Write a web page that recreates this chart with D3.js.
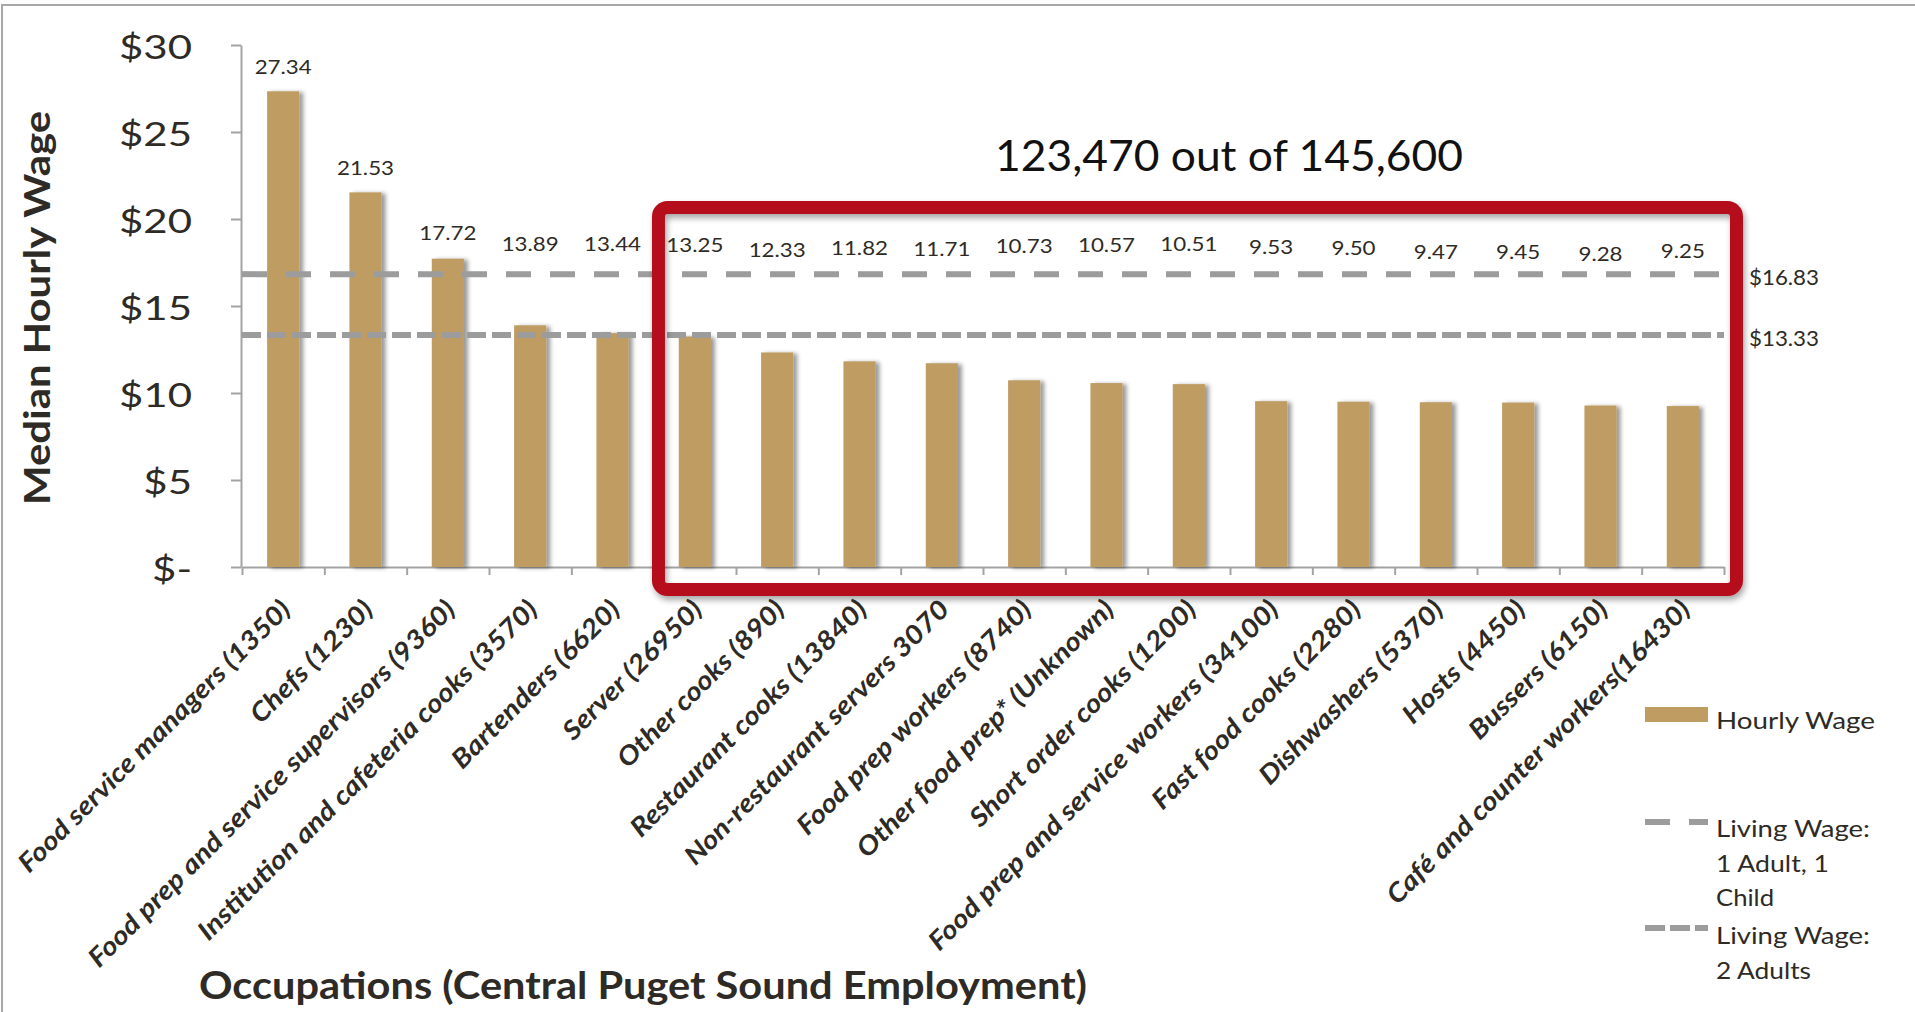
<!DOCTYPE html>
<html>
<head>
<meta charset="utf-8">
<script src="https://cdn.jsdelivr.net/npm/d3@7"></script>
<style>
  html, body { margin: 0; padding: 0; background: #fff; }
  svg { display: block; }
  text { font-family: Lato, "Open Sans", sans-serif; fill: #2e2a25; }
</style>
</head>
<body>
<script>
// ---------- data ----------
const categories = [
  "Food service managers (1350)",
  "Chefs (1230)",
  "Food prep and service supervisors (9360)",
  "Institution and cafeteria cooks (3570)",
  "Bartenders (6620)",
  "Server (26950)",
  "Other cooks (890)",
  "Restaurant cooks (13840)",
  "Non-restaurant servers 3070",
  "Food prep workers (8740)",
  "Other food prep* (Unknown)",
  "Short order cooks (1200)",
  "Food prep and service workers (34100)",
  "Fast food cooks (2280)",
  "Dishwashers (5370)",
  "Hosts (4450)",
  "Bussers  (6150)",
  "Café and counter workers(16430)"
];
const wages = [27.34, 21.53, 17.72, 13.89, 13.44, 13.25, 12.33, 11.82, 11.71,
               10.73, 10.57, 10.51, 9.53, 9.50, 9.47, 9.45, 9.28, 9.25];
// wage level (in $) at which each value label sits
const labelLevels = [28.74, 22.93, 19.20, 18.56, 18.56, 18.51, 18.22, 18.33, 18.28,
                     18.45, 18.51, 18.56, 18.39, 18.33, 18.10, 18.10, 17.99, 18.16];
const yTicks = [0, 5, 10, 15, 20, 25, 30];
const livingWages = [16.83, 13.33];
const livingLabels = ["$16.83", "$13.33"];
const legendLines = [["Hourly Wage"], ["Living Wage:", "1 Adult, 1", "Child"], ["Living Wage:", "2 Adults"]];
const highlightFrom = 5;   // first highlighted category index
const title = "123,470 out of 145,600";
const yTitle = "Median Hourly Wage";
const xTitle = "Occupations (Central Puget Sound Employment)";

// ---------- layout ----------
const W = 1915, H = 1012;
const gold = "#be9c62", gray = "#9c9c9c", red = "#b50e1d", axisCol = "#a3a3a3";

const svg = d3.select("body").append("svg").attr("width", W).attr("height", H);
const defs = svg.append("defs");
defs.append("filter").attr("id", "barShadow").attr("x", "-20%").attr("y", "-5%").attr("width", "160%").attr("height", "115%")
  .append("feDropShadow").attr("dx", 4).attr("dy", 1).attr("stdDeviation", 2)
  .attr("flood-color", "#000").attr("flood-opacity", 0.4);
defs.append("filter").attr("id", "boxShadow").attr("x", "-5%").attr("y", "-5%").attr("width", "110%").attr("height", "115%")
  .append("feDropShadow").attr("dx", 2).attr("dy", 4).attr("stdDeviation", 3)
  .attr("flood-color", "#000").attr("flood-opacity", 0.35);

// frame
svg.append("rect").attr("x", 2).attr("y", 5).attr("width", W + 20).attr("height", H + 20)
  .attr("fill", "none").attr("stroke", "#a8a8a8").attr("stroke-width", 2);

const x0 = 242, x1 = 1724, yBase = 567, yTop = 45;
const x = d3.scaleBand().domain(categories).range([x0, x1]).paddingInner(0.61).paddingOuter(0.305);
const xb = d3.scaleLinear().domain([0, categories.length]).range([x0, x1]);
const y = d3.scaleLinear().domain([0, 30]).range([yBase, yTop]);

function fit(sel, target) {
  sel.each(function () {
    this.setAttribute("textLength", target);
    this.setAttribute("lengthAdjust", "spacingAndGlyphs");
  });
}
function fitGroup(sel, firstTarget) {
  const k = firstTarget / sel.node().getComputedTextLength();
  sel.each(function () { fit(d3.select(this), this.getComputedTextLength() * k); });
}

// y axis
const yAxis = svg.append("g").attr("transform", `translate(${x0 - 1},0)`)
  .call(d3.axisLeft(y).tickValues(yTicks).tickSize(10).tickSizeOuter(0).tickPadding(39)
    .tickFormat(d => d === 0 ? "$-" : "$" + d));
yAxis.selectAll("path, line").attr("stroke", axisCol).attr("stroke-width", 2);
const yLab = yAxis.selectAll("text").attr("font-size", 32).attr("fill", "#2e2a25")
  .attr("font-family", "Lato, sans-serif").attr("dy", "0.42em");
{
  const ref = yLab.filter(d => d === 30);
  const k = 73 / ref.node().getComputedTextLength();
  yLab.each(function () { fit(d3.select(this), this.getComputedTextLength() * k); });
}

// x axis (ticks on category boundaries)
const xAxis = svg.append("g").attr("transform", `translate(0,${yBase})`)
  .call(d3.axisBottom(xb).tickValues(d3.range(categories.length + 1)).tickSize(8).tickSizeOuter(0).tickFormat(""));
xAxis.selectAll("path, line").attr("stroke", axisCol).attr("stroke-width", 2);

// bars
svg.append("g").selectAll("rect").data(wages).join("rect")
  .attr("x", (d, i) => x(categories[i]))
  .attr("y", d => y(d))
  .attr("width", x.bandwidth())
  .attr("height", d => yBase - y(d))
  .attr("fill", gold)
  .attr("filter", "url(#barShadow)");

// value labels
const vl = svg.append("g").selectAll("text").data(wages).join("text")
  .attr("x", (d, i) => x(categories[i]) + x.bandwidth() / 2)
  .attr("y", (d, i) => y(labelLevels[i]))
  .attr("dy", "0.36em")
  .attr("text-anchor", "middle")
  .attr("font-size", 20)
  .text(d => d.toFixed(2));
fitGroup(vl, 57);

// living wage lines
const dashes = ["25,19", "19,6"];
svg.append("g").selectAll("line").data(livingWages).join("line")
  .attr("x1", x0).attr("x2", x1)
  .attr("y1", d => y(d)).attr("y2", d => y(d))
  .attr("stroke", gray).attr("stroke-width", 6)
  .attr("stroke-dasharray", (d, i) => dashes[i]);
const ll = svg.append("g").selectAll("text").data(livingWages).join("text")
  .attr("x", 1749).attr("y", d => y(d) + 3).attr("dy", "0.36em")
  .attr("font-size", 22).text((d, i) => livingLabels[i]);
fit(ll, 70);

// highlight box
const boxLeft = xb(highlightFrom) + 4.8, boxRight = xb(categories.length) + 12.5;
svg.append("rect")
  .attr("x", boxLeft).attr("y", 207.5)
  .attr("width", boxRight - boxLeft).attr("height", 382)
  .attr("rx", 9).attr("ry", 9)
  .attr("fill", "none").attr("stroke", red).attr("stroke-width", 13)
  .attr("filter", "url(#boxShadow)");

// category labels
const cl = svg.append("g").selectAll("text").data(categories).join("text")
  .attr("transform", d => `translate(${x(d) + x.bandwidth() / 2 + 9},${yBase + 44}) rotate(-45)`)
  .attr("text-anchor", "end")
  .attr("font-size", 26).attr("font-weight", 700).attr("font-style", "italic")
  .text(d => d);
fitGroup(cl, 372);

// title
const t = svg.append("text").attr("x", 1229).attr("y", 171).attr("text-anchor", "middle")
  .attr("font-size", 43).style("fill", "#111").text(title);
fit(t, 468);

// axis titles
const yt = svg.append("text").attr("transform", "translate(50,308) rotate(-90)")
  .attr("text-anchor", "middle").attr("font-size", 36).attr("font-weight", 700).text(yTitle);
fit(yt, 394);
const xt = svg.append("text").attr("x", 199).attr("y", 999)
  .attr("font-size", 38).attr("font-weight", 700).text(xTitle);
fit(xt, 888);

// legend
const lg = svg.append("g");
lg.append("rect").attr("x", 1645).attr("y", 707).attr("width", 63).attr("height", 15).attr("fill", gold);
lg.append("line").attr("x1", 1645).attr("x2", 1708).attr("y1", 822).attr("y2", 822)
  .attr("stroke", gray).attr("stroke-width", 6).attr("stroke-dasharray", "25,19");
lg.append("line").attr("x1", 1645).attr("x2", 1708).attr("y1", 928).attr("y2", 928)
  .attr("stroke", gray).attr("stroke-width", 6).attr("stroke-dasharray", "20,5");
const legendY = [[720], [828, 863, 897], [935, 970]];
const legendW = [[159], [154, 113, 58], [154, 95]];
legendLines.forEach((lines, g) => {
  lines.forEach((s, j) => {
    const tt = lg.append("text").attr("x", 1716).attr("y", legendY[g][j]).attr("dy", "0.36em")
      .attr("font-size", 24).text(s);
    fit(tt, legendW[g][j]);
  });
});
</script>
</body>
</html>
